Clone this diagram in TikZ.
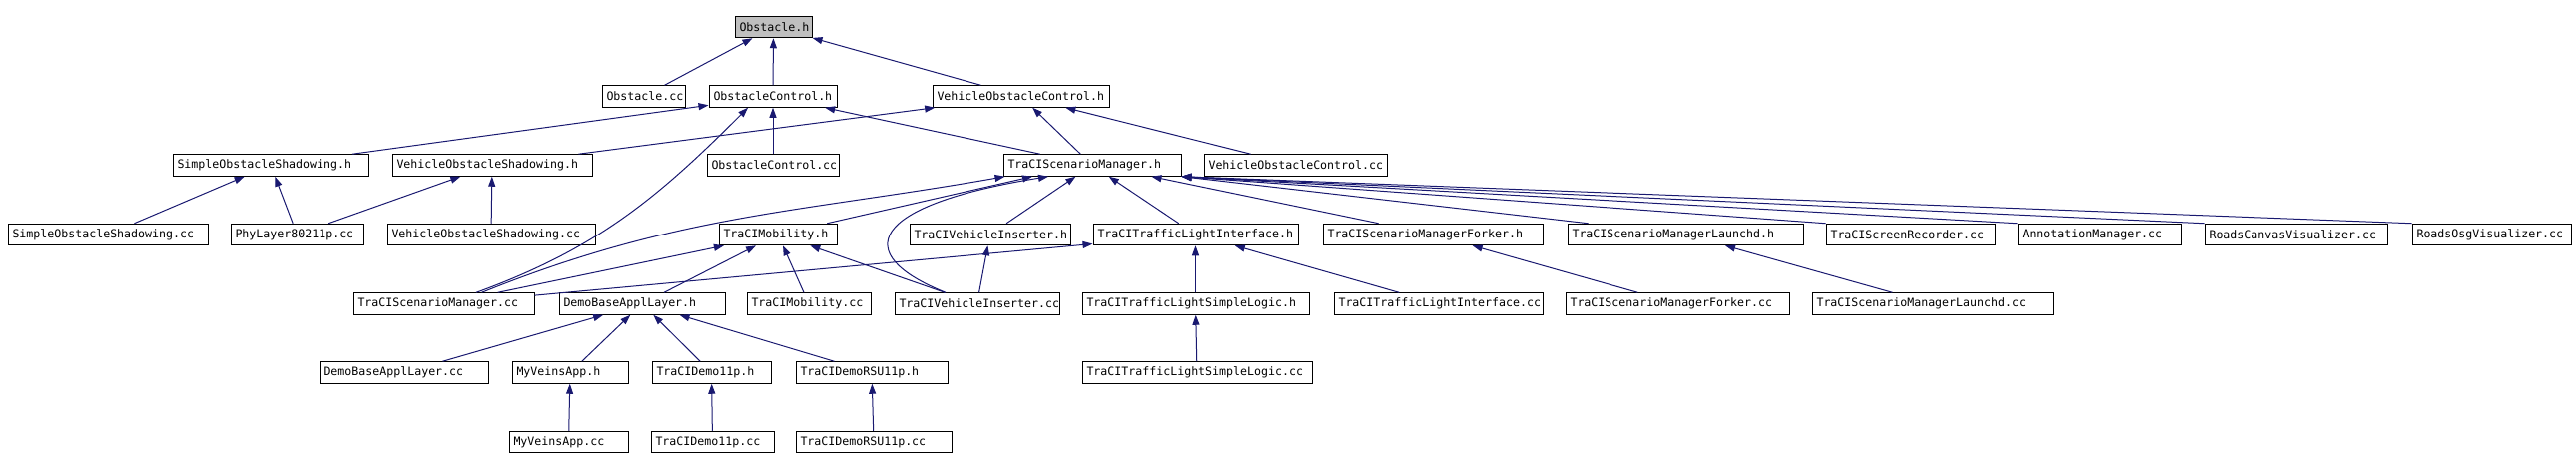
\documentclass[tikz,border=0pt]{standalone}
\usepackage{fontspec}
\setmonofont{DejaVu Sans Mono}
\usetikzlibrary{arrows.meta}
\usepackage{xcolor}
\definecolor{EdgeBlue}{HTML}{191970}
\definecolor{RootGray}{HTML}{BFBFBF}

\begin{document}
\begin{tikzpicture}[
            x=0.5pt, y=0.5pt,
            srcfile/.style={rectangle, draw=black, line width=0.5pt, fill=white, minimum height=10.75pt, inner xsep=2.25pt, inner ysep=0pt, align=left, font=\ttfamily\fontsize{5.8}{7}\selectfont},
            root/.style={srcfile, fill=RootGray},
            arrow/.style={-{Triangle[length=5pt,width=3.5pt]}, line width=0.5pt, color=EdgeBlue}
        ]
            \useasboundingbox (0,0) rectangle (2580,-471);

            % Header under study (top)
            \node[root, text width=34pt] (obsh) at (774.5,-27) {Obstacle.h};

            % Second row
            \node[srcfile, text width=37pt] (obscc) at (644.5,-96.5) {Obstacle.cc};
            \node[srcfile, text width=59.5pt] (obsctrlh) at (774,-96.5) {ObstacleControl.h};
            \node[srcfile, text width=84pt] (vehctrlh) at (1022.5,-96.5) {VehicleObstacleControl.h};

            % Third row
            \node[srcfile, text width=93.5pt] (simpleh) at (271,-165.5) {SimpleObstacleShadowing.h};
            \node[srcfile, text width=95.5pt] (vehshadh) at (493,-165.5) {VehicleObstacleShadowing.h};
            \node[srcfile, text width=61.5pt] (obsctrlcc) at (774,-165.5) {ObstacleControl.cc};
            \node[srcfile, text width=84.5pt] (tsmh) at (1094,-165.5) {TraCIScenarioManager.h};
            \node[srcfile, text width=87pt] (vehctrlcc) at (1297.5,-165.5) {VehicleObstacleControl.cc};

            % Fourth row
            \node[srcfile, text width=95.5pt] (simplecc) at (108,-235) {SimpleObstacleShadowing.cc};
            \node[srcfile, text width=62pt] (phycc) at (297.5,-235) {PhyLayer80211p.cc};
            \node[srcfile, text width=99.5pt] (vehshadcc) at (492,-235) {VehicleObstacleShadowing.cc};
            \node[srcfile, text width=54.5pt] (mobh) at (779,-235) {TraCIMobility.h};
            \node[srcfile, text width=76pt] (vinsh) at (991.5,-235) {TraCIVehicleInserter.h};
            \node[srcfile, text width=98pt] (tlih) at (1197.5,-235) {TraCITrafficLightInterface.h};
            \node[srcfile, text width=105.5pt] (forkh) at (1435,-235) {TraCIScenarioManagerForker.h};
            \node[srcfile, text width=113.5pt] (launchh) at (1688,-235) {TraCIScenarioManagerLaunchd.h};
            \node[srcfile, text width=80pt] (screencc) at (1913.5,-235) {TraCIScreenRecorder.cc};
            \node[srcfile, text width=77pt] (annotcc) at (2102.5,-235) {AnnotationManager.cc};
            \node[srcfile, text width=87pt] (canvascc) at (2299.5,-235) {RoadsCanvasVisualizer.cc};
            \node[srcfile, text width=75pt] (osgcc) at (2495.5,-235) {RoadsOsgVisualizer.cc};

            % Fifth row
            \node[srcfile, text width=86pt] (tsmcc) at (444.5,-304.5) {TraCIScenarioManager.cc};
            \node[srcfile, text width=78.5pt] (demoh) at (643,-304.5) {DemoBaseApplLayer.h};
            \node[srcfile, text width=57.5pt] (mobcc) at (810,-304.5) {TraCIMobility.cc};
            \node[srcfile, text width=78pt] (vinscc) at (978.5,-304.5) {TraCIVehicleInserter.cc};
            \node[srcfile, text width=109pt] (tlslh) at (1197.5,-304.5) {TraCITrafficLightSimpleLogic.h};
            \node[srcfile, text width=100pt] (tlicc) at (1440.5,-304.5) {TraCITrafficLightInterface.cc};
            \node[srcfile, text width=107.5pt] (forkcc) at (1680,-304.5) {TraCIScenarioManagerForker.cc};
            \node[srcfile, text width=116pt] (launchcc) at (1935.5,-304.5) {TraCIScenarioManagerLaunchd.cc};

            % Sixth row
            \node[srcfile, text width=80pt] (democc) at (404.5,-373.5) {DemoBaseApplLayer.cc};
            \node[srcfile, text width=53.5pt] (veinsh) at (571,-373.5) {MyVeinsApp.h};
            \node[srcfile, text width=55pt] (demo11h) at (712.5,-373.5) {TraCIDemo11p.h};
            \node[srcfile, text width=71.5pt] (rsuh) at (873,-373.5) {TraCIDemoRSU11p.h};
            \node[srcfile, text width=110.5pt] (tlslcc) at (1199,-373.5) {TraCITrafficLightSimpleLogic.cc};

            % Bottom row
            \node[srcfile, text width=55pt] (veinscc) at (569.5,-443) {MyVeinsApp.cc};
            \node[srcfile, text width=57pt] (demo11cc) at (713.5,-443) {TraCIDemo11p.cc};
            \node[srcfile, text width=73.5pt] (rsucc) at (875,-443) {TraCIDemoRSU11p.cc};

            % Includes of the obstacle headers
            \draw[arrow] (obscc) -- (obsh);
            \draw[arrow] (obsctrlh) -- (obsh);
            \draw[arrow] (vehctrlh) -- (obsh);
            \draw[arrow] (simpleh) -- (obsctrlh);
            \draw[arrow] (obsctrlcc) -- (obsctrlh);
            \draw[arrow] (tsmh) -- (obsctrlh);
            \draw[arrow] ([xshift=16.25pt]tsmcc.north) to[out=20,in=-135] ([xshift=-12.5pt]obsctrlh.south);
            \draw[arrow] (vehshadh) -- (vehctrlh);
            \draw[arrow] (tsmh) -- (vehctrlh);
            \draw[arrow] (vehctrlcc) -- (vehctrlh);
            \draw[arrow] (simplecc) -- (simpleh);
            \draw[arrow] (phycc) -- (simpleh);
            \draw[arrow] (phycc) -- (vehshadh);
            \draw[arrow] (vehshadcc) -- (vehshadh);

            % Includes of the scenario manager
            \draw[arrow] (mobh) -- ([xshift=-30pt]tsmh.south);
            \draw[arrow] ([xshift=19pt]tsmcc.north) to[out=22,in=-170] ([xshift=1pt]tsmh.south west);
            \draw[arrow] (vinsh) -- (tsmh);
            \draw[arrow] ([xshift=-15.75pt]vinscc.north) .. controls +(-97,39) and +(-180,-29) .. ([xshift=-22pt]tsmh.south);
            \draw[arrow] (tlih) -- (tsmh);
            \draw[arrow] (forkh) -- ([xshift=-15pt]tsmh.south east);
            \draw[arrow] (launchh) -- (tsmh.south east);
            \draw[arrow] (screencc.north west) -- (tsmh.south east);
            \draw[arrow] (annotcc.north west) -- (tsmh.south east);
            \draw[arrow] (canvascc.north west) -- (tsmh.south east);
            \draw[arrow] (osgcc.north west) -- (tsmh.south east);

            % Fifth row into the fourth
            \draw[arrow] (tsmcc) -- (mobh);
            \draw[arrow] (demoh) -- (mobh);
            \draw[arrow] (mobcc) -- (mobh);
            \draw[arrow] (vinscc) -- (mobh);
            \draw[arrow] (tsmcc) -- (tlih);
            \draw[arrow] (vinscc) -- (vinsh);
            \draw[arrow] (tlslh) -- (tlih);
            \draw[arrow] (tlicc) -- (tlih);
            \draw[arrow] (forkcc) -- (forkh);
            \draw[arrow] (launchcc) -- (launchh);

            % Application layer
            \draw[arrow] (democc) -- (demoh);
            \draw[arrow] (veinsh) -- (demoh);
            \draw[arrow] (demo11h) -- (demoh);
            \draw[arrow] (rsuh) -- (demoh);
            \draw[arrow] (veinscc) -- (veinsh);
            \draw[arrow] (demo11cc) -- (demo11h);
            \draw[arrow] (rsucc) -- (rsuh);
            \draw[arrow] (tlslcc) -- (tlslh);
        \end{tikzpicture}
\end{document}
